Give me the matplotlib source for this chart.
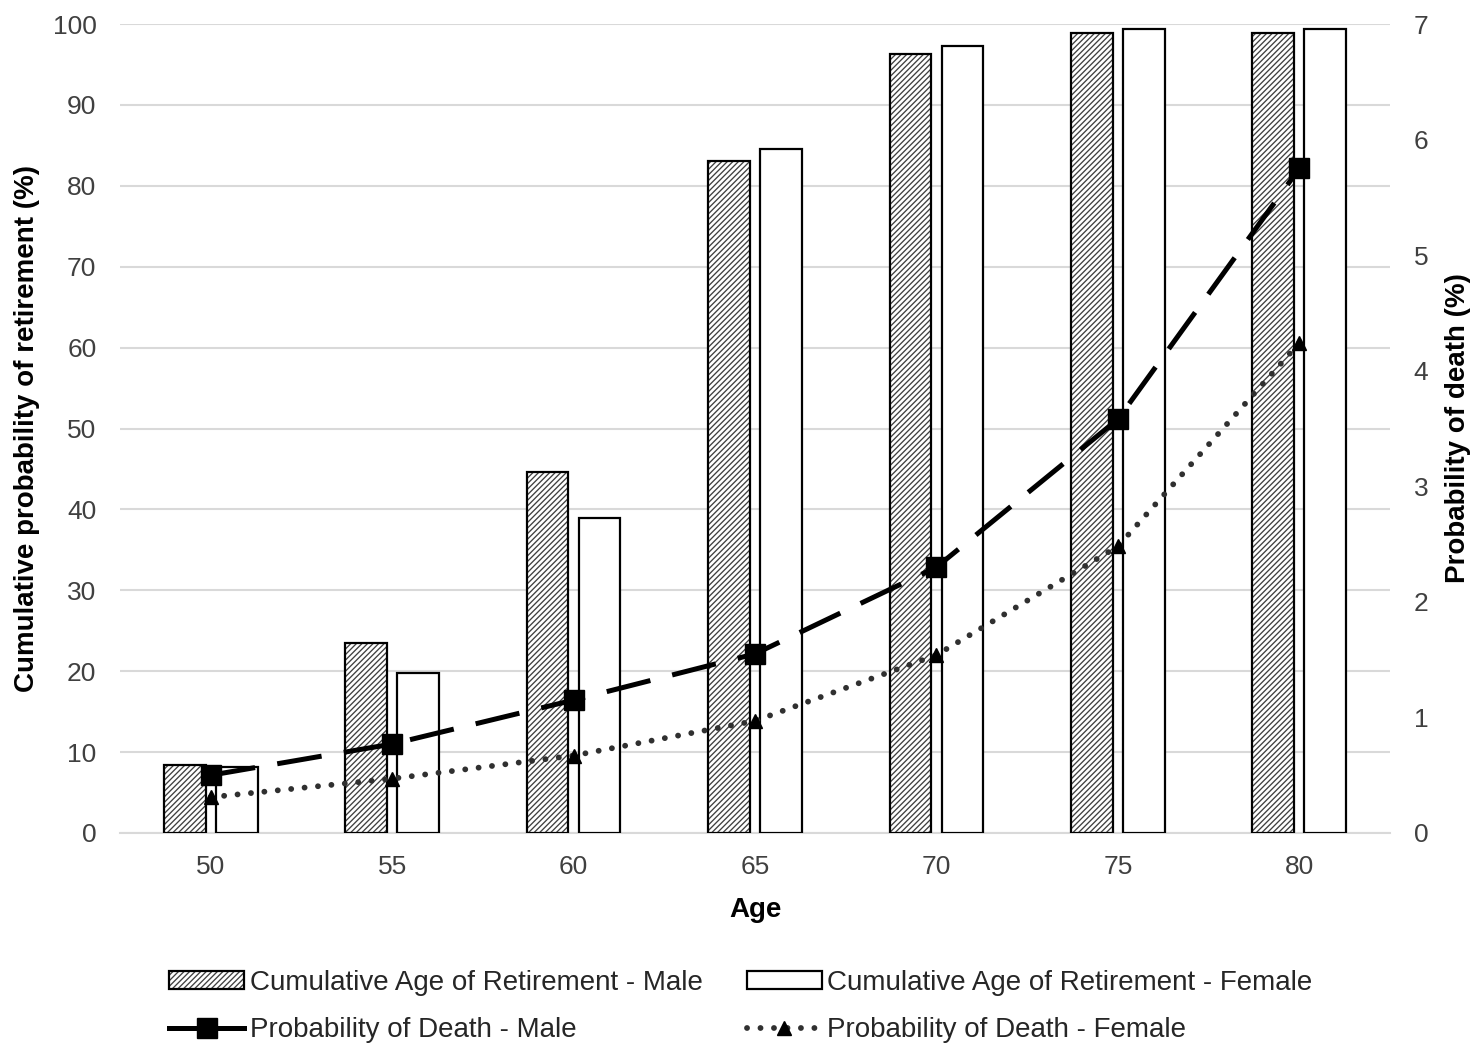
import numpy as np
import matplotlib
matplotlib.use("Agg")
import matplotlib.pyplot as plt
from matplotlib.legend_handler import HandlerTuple

plt.rcParams['font.family'] = ['Liberation Sans', 'DejaVu Sans']
plt.rcParams['hatch.linewidth'] = 0.95

ages = ['50', '55', '60', '65', '70', '75', '80']
retire_male = [8.4, 23.5, 44.6, 83.1, 96.3, 98.9, 98.9]
retire_female = [8.2, 19.8, 38.9, 84.6, 97.3, 99.4, 99.4]
death_male = [0.50, 0.77, 1.15, 1.55, 2.30, 3.58, 5.75]
death_female = [0.31, 0.47, 0.67, 0.97, 1.54, 2.48, 4.24]

W, H = 1476, 1043
fig = plt.figure(figsize=(W / 100, H / 100), dpi=100)
ax = fig.add_axes([120 / W, 1 - 833 / H, (1390 - 120) / W, (833 - 24) / H])
x = np.arange(len(ages))
bw = 0.23
off = 0.143

hb = ax.bar(x - off, retire_male, bw, facecolor='white', edgecolor='#404040',
            hatch='//////', linewidth=0, zorder=2)
ob = ax.bar(x - off, retire_male, bw, facecolor='none', edgecolor='black',
            linewidth=1.6, zorder=3)
fb = ax.bar(x + off, retire_female, bw, facecolor='white', edgecolor='black',
            linewidth=1.6, zorder=3)

ax.set_xlim(-0.5, len(ages) - 0.5)
ax.set_ylim(0, 100)
ax.set_yticks(np.arange(0, 101, 10))
ax.set_xticks(x)
ax.set_xticklabels(ages)
ax.set_axisbelow(True)
ax.grid(axis='y', color='#d9d9d9', linewidth=1.5)
for s in ['top', 'right', 'left']:
    ax.spines[s].set_visible(False)
ax.spines['bottom'].set_color('#d9d9d9')
ax.spines['bottom'].set_linewidth(1.5)
ax.tick_params(axis='both', length=0, labelsize=19, colors='#404040')
ax.tick_params(axis='y', pad=17)
ax.tick_params(axis='x', pad=16)
ax.set_xlabel('Age', fontsize=20, fontweight='bold', labelpad=13)
ax.set_ylabel('Cumulative probability of retirement (%)', fontsize=20,
              fontweight='bold', labelpad=9)

ax2 = ax.twinx()
ax2.set_ylim(0, 7)
ax2.set_yticks(np.arange(0, 8, 1))
for s in ['top', 'right', 'left', 'bottom']:
    ax2.spines[s].set_visible(False)
ax2.tick_params(axis='y', length=0, labelsize=19, colors='#404040', pad=17)
ax2.set_ylabel('Probability of death (%)', fontsize=20, fontweight='bold',
               labelpad=12)

lm, = ax2.plot(x, death_male, color='black', linewidth=3.6, dashes=(9, 4.5),
               marker='s', markersize=14, zorder=4)
lf, = ax2.plot(x, death_female, color='#303030', linewidth=4.2,
               dashes=(0.01, 2.3), dash_capstyle='round',
               marker='^', markersize=9.5, markerfacecolor='black',
               markeredgecolor='black', zorder=4)

handles = [(hb[0], ob[0]), lm, fb[0], lf]
labels = ['Cumulative Age of Retirement - Male', 'Probability of Death - Male',
          'Cumulative Age of Retirement - Female', 'Probability of Death - Female']
leg = fig.legend(handles, labels, ncol=2, frameon=False, fontsize=20,
                 loc='upper left', bbox_to_anchor=(169 / W, 1 - 970 / H),
                 borderpad=0, borderaxespad=0, handlelength=2.7,
                 handletextpad=0.2, columnspacing=1.6, labelspacing=0.75,
                 handleheight=0.6, labelcolor='#262626',
                 handler_map={tuple: HandlerTuple(ndivide=1, pad=0)})
for ln in leg.get_lines():
    if ln.get_marker() == 's':
        ln.set_linestyle('-')

fig.savefig('out.png', dpi=100)
